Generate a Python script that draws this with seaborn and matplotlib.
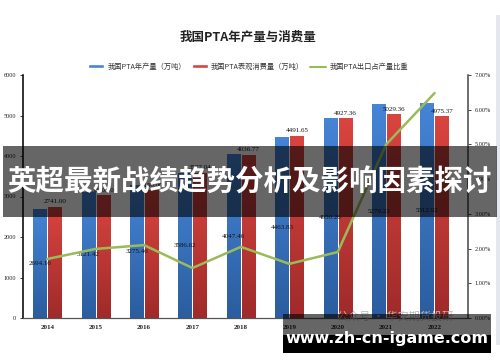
import numpy as np
import pandas as pd
import matplotlib

matplotlib.use("Agg")
import matplotlib.pyplot as plt
import seaborn as sns
from matplotlib.patches import Rectangle, Patch
from matplotlib.lines import Line2D
from matplotlib.colors import LinearSegmentedColormap

# values
YEARS = ["2014", "2015", "2016", "2017", "2018", "2019", "2020", "2021", "2022"]
PRODUCTION = [2694.16, 3121.42, 3275.46, 3586.62, 4047.46, 4463.83, 4950.26, 5279.23, 5312.92]
CONSUMPTION = [2741.00, 3030.00, 3150.00, 3587.04, 4036.77, 4491.65, 4927.36, 5029.36, 4975.37]
EXPORT_SHARE = [1.70, 1.99, 2.10, 1.44, 2.05, 1.56, 1.90, 5.00, 6.48]

SERIES = ["我国PTA年产量（万吨）", "我国PTA表观消费量（万吨）"]
LINE_NAME = "我国PTA出口占产量比重"
TITLE = "我国PTA年产量与消费量"
BANNER = "英超最新战绩趋势分析及影响因素探讨"
SITE = "www.zh-cn-igame.com"
WATERMARK = "公众号 · 华安期货投研"

BLUE = ("#4584d6", "#2b5d9f")
RED = ("#d9443f", "#9f2b2a")
GREEN = "#9bbb59"

W, H = 500, 362

sns.set_theme(style="white")
plt.rcParams["font.family"] = ["Noto Sans CJK SC", "DejaVu Sans"]
SERIF = ["Liberation Serif", "DejaVu Serif"]


def fx(x):
    return x / W


def fy(y):
    return 1 - y / H


df = pd.DataFrame({
    "year": YEARS * 2,
    "value": PRODUCTION + CONSUMPTION,
    "series": [SERIES[0]] * len(YEARS) + [SERIES[1]] * len(YEARS),
})

fig = plt.figure(figsize=(W / 100, H / 100), dpi=100)
ax = fig.add_axes([fx(23), fy(318), fx(468) - fx(23), fy(75) - fy(318)])

sns.barplot(data=df, x="year", y="value", hue="series", order=YEARS,
            hue_order=SERIES, palette=[BLUE[0], RED[0]], width=0.62, gap=0.12,
            saturation=1, legend=False, ax=ax)

# vertical gradient fill on each bar
for cont, cols in zip(ax.containers, [BLUE, RED]):
    cmap = LinearSegmentedColormap.from_list("g", [cols[1], cols[0]])
    for bar in cont:
        x0, y0 = bar.get_x(), bar.get_y()
        w, h = bar.get_width(), bar.get_height()
        img = ax.imshow(np.linspace(0, 1, 64).reshape(-1, 1), cmap=cmap,
                        extent=[x0, x0 + w, y0, y0 + h], origin="lower",
                        aspect="auto", zorder=bar.get_zorder())
        img.set_clip_path(bar)
        bar.set_facecolor("none")

ax.bar_label(ax.containers[0], labels=[f"{v:.2f}" for v in PRODUCTION],
             label_type="center", fontsize=5, family=SERIF, color="#111111")
ax.bar_label(ax.containers[1], labels=[f"{v:.2f}" for v in CONSUMPTION],
             padding=2, fontsize=5, family=SERIF, color="#111111")

ax.set_xlim(-0.5, 8.69)
ax.set_ylim(0, 6000)
ax.set_yticks(range(0, 6001, 1000))
ax.set_xlabel("")
ax.set_ylabel("")
ax.tick_params(axis="y", labelsize=4.5, length=2, width=0.6, pad=3, colors="#222222")
ax.tick_params(axis="x", labelsize=5, length=0, pad=5, colors="#222222")
for lab in ax.get_xticklabels() + ax.get_yticklabels():
    lab.set_family(SERIF)
for lab in ax.get_xticklabels():
    lab.set_fontweight("bold")
ax.grid(False)
for side in ["top", "right"]:
    ax.spines[side].set_visible(False)
ax.spines["left"].set_color("#111111")
ax.spines["left"].set_linewidth(1.2)
ax.spines["bottom"].set_color("#555555")
ax.spines["bottom"].set_linewidth(0.9)

ax2 = ax.twinx()
sns.lineplot(x=np.arange(len(YEARS)), y=EXPORT_SHARE, color=GREEN, linewidth=1.8,
             ax=ax2)
ax2.set_ylim(0, 7)
ax2.set_yticks(range(0, 8))
ax2.set_yticklabels([f"{v:.2f}%" for v in range(0, 8)], family=SERIF)
ax2.tick_params(axis="y", labelsize=4.5, length=2, width=0.6, pad=3, colors="#222222")
ax2.grid(False)
for side in ["top", "left", "bottom"]:
    ax2.spines[side].set_visible(False)
ax2.spines["right"].set_color("#555555")
ax2.spines["right"].set_linewidth(1.2)

fig.text(fx(248), fy(37), TITLE, ha="center", va="center", fontsize=9,
         fontweight="bold", color="#222222")

handles = [Patch(facecolor=BLUE[0]), Patch(facecolor=RED[0]),
           Line2D([], [], color=GREEN, linewidth=1.5)]
fig.legend(handles, SERIES + [LINE_NAME], loc="center", ncol=3,
           bbox_to_anchor=(fx(248), fy(67)), frameon=False, fontsize=5.2,
           handlelength=2.2, handleheight=0.5, columnspacing=0.8,
           handletextpad=0.5, labelcolor="#333333")

# overlays from the screenshot
fig.text(fx(395), fy(317), WATERMARK, ha="center", va="center", fontsize=8,
         color="#bbbbbb", zorder=5)
fig.add_artist(Rectangle((fx(3), fy(217)), fx(497) - fx(3), fy(146) - fy(217),
                         transform=fig.transFigure, color="black", alpha=0.6,
                         lw=0, zorder=10))
fig.text(fx(249), fy(183), BANNER, ha="center", va="center", fontsize=20.5,
         fontweight="bold", color="white", zorder=11)
fig.add_artist(Rectangle((fx(283), fy(335)), fx(491) - fx(283), fy(314) - fy(335),
                         transform=fig.transFigure, color="black", alpha=0.6,
                         lw=0, zorder=10))
fig.add_artist(Rectangle((fx(283), fy(353)), fx(491) - fx(283), fy(335) - fy(353),
                         transform=fig.transFigure, color="black", lw=0, zorder=10))
fig.text(fx(387), fy(338), SITE, ha="center", va="center", fontsize=11.5,
         fontweight="bold", color="white", family="DejaVu Sans", zorder=11)
fig.add_artist(Rectangle((fx(496), fy(345)), fx(500) - fx(496), fy(15) - fy(345),
                         transform=fig.transFigure, color="#e4e8ee", lw=0, zorder=1))

fig.savefig("out.png", dpi=100)
